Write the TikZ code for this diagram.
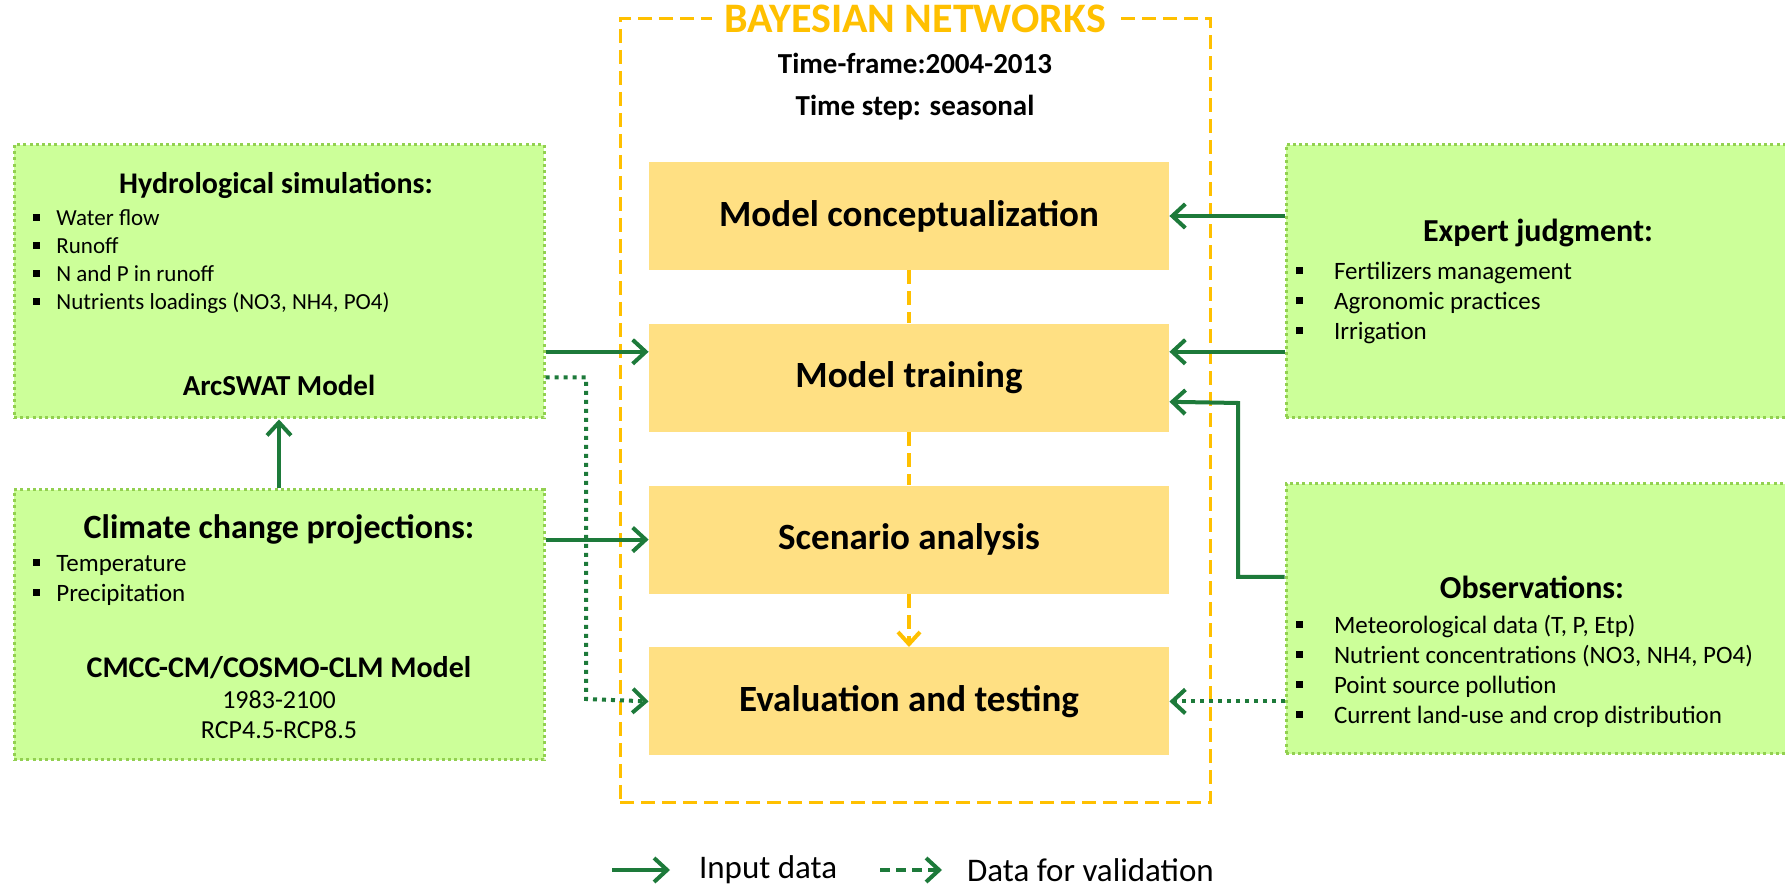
\documentclass[tikz,border=0pt]{standalone}
\usepackage{fontspec}
\setmainfont{Carlito}
\usetikzlibrary{arrows.meta, positioning}
\definecolor{leafgreen}{HTML}{CCFF99}
\definecolor{leafedge}{HTML}{92D050}
\definecolor{arrowgreen}{HTML}{1D7A3A}
\definecolor{blockyellow}{HTML}{FFE083}
\definecolor{bngold}{HTML}{FFC000}
\tikzstyle{block} = [rectangle, fill=blockyellow, minimum width=260pt, minimum height=54pt,
    font=\fontsize{18.5}{22}\selectfont\bfseries]
\tikzstyle{source} = [rectangle, draw=leafedge, fill=leafgreen, line width=1.5pt,
    dash pattern=on 1.5pt off 1.6pt, minimum width=265pt]
\tikzstyle{heading} = [font=\fontsize{16}{19}\selectfont\bfseries]
\tikzstyle{items} = [anchor=west, align=left, inner sep=0pt, font=\fontsize{12.5}{15}\selectfont]
\tikzstyle{modelname} = [font=\fontsize{14.5}{17}\selectfont\bfseries]
\tikzstyle{line} = [draw=arrowgreen, line width=2pt, -{Straight Barb[length=6.5pt,width=12pt]}]
\tikzstyle{vline} = [line, dash pattern=on 2pt off 2.5pt]
\tikzstyle{flow} = [draw=bngold, line width=1.5pt, dash pattern=on 7pt off 3.5pt]
\newcommand{\bul}[1][11.5pt]{\makebox[#1][l]{\rule[.22em]{.28em}{.28em}}}

\begin{document}
\begin{tikzpicture}[x=0.5pt, y=-0.5pt, node distance=26.5pt, auto]
  \useasboundingbox (0,0) rectangle (1785,892);
  % Bayesian networks frame
  \node[flow, minimum width=295pt, minimum height=392pt] (bn) at (915,411) {};
  \node[fill=white, inner xsep=6pt, inner ysep=1pt, text=bngold,
        font=\fontsize{21}{24}\selectfont\bfseries] (bntitle) at (915,19) {BAYESIAN NETWORKS};
  \node[align=center, font=\fontsize{14.5}{21}\selectfont\bfseries] (timeframe) at (915,87)
        {Time-frame:2004-2013\\ Time step: seasonal};

  % Place nodes
  \node[block] (conc) at (909,216) {Model conceptualization};
  \node[block, below=of conc] (train) {Model training};
  \node[block, below=of train] (scen) {Scenario analysis};
  \node[block, below=of scen] (eval) {Evaluation and testing};

  % Data sources
  \node[source, minimum height=136.5pt] (hydro) at (279,281.5) {};
  \node[heading, font=\fontsize{15}{18}\selectfont\bfseries] (hydrotitle) at (276,186) {Hydrological simulations:};
  \node[items, font=\fontsize{11.5}{14}\selectfont] (hydroitems) at (33,262) {\bul Water flow\\ \bul Runoff\\
        \bul N and P in runoff\\ \bul Nutrients loadings (NO3, NH4, PO4)};
  \node[modelname] (arcswat) at (279,385) {ArcSWAT Model};

  \node[source, minimum height=135pt] (climate) at (279,625) {};
  \node[heading, font=\fontsize{17}{20}\selectfont\bfseries] (climtitle) at (279,529) {Climate change projections:};
  \node[items] (climitems) at (33,580) {\bul Temperature\\ \bul Precipitation};
  \node[modelname, font=\fontsize{15}{18}\selectfont\bfseries] (cmcc) at (279,668) {CMCC-CM/COSMO-CLM Model};
  \node[align=center, font=\fontsize{13}{15}\selectfont] (cmccyears) at (279,715)
        {1983-2100\\ RCP4.5-RCP8.5};

  \node[source, minimum width=252pt, minimum height=136.5pt] (expert) at (1538,281.5) {};
  \node[heading] (experttitle) at (1538,233) {Expert judgment:};
  \node[items] (expertitems) at (1296,303) {\bul[16pt] Fertilizers management\\
        \bul[16pt] Agronomic practices\\ \bul[16pt] Irrigation};

  \node[source, minimum width=252pt, minimum height=135pt] (obs) at (1538,619) {};
  \node[heading] (obstitle) at (1532,587) {Observations:};
  \node[items] (obsitems) at (1296,671) {\bul[16pt] Meteorological data (T, P, Etp)\\
        \bul[16pt] Nutrient concentrations (NO3, NH4, PO4)\\
        \bul[16pt] Point source pollution\\
        \bul[16pt] Current land-use and crop distribution};

  % Legend
  \node[anchor=west, font=\fontsize{16.5}{19}\selectfont] (inlegend) at (692,870) {Input data};
  \node[anchor=west, font=\fontsize{16.5}{19}\selectfont] (vallegend) at (960,870) {Data for validation};

  % Draw edges
  \path [flow, line width=2pt] (conc) -- (train);
  \path [flow, line width=2pt] (train) -- (scen);
  \path [flow, line width=2pt, -{Straight Barb[length=6pt,width=11pt]}] (scen) -- (eval);

  \path [line] (climate) -- (hydro);
  \path [line] ([yshift=13pt]train.west -| hydro.east) -- ([yshift=13pt]train.west);
  \path [line] (climate.east |- scen.west) -- (scen.west);
  \path [line] (expert.west |- conc.east) -- (conc.east);
  \path [line] ([yshift=13pt]train.east -| expert.west) -- ([yshift=13pt]train.east);

  \coordinate (obsturn) at (1238,403);
  \path [line] ([yshift=21pt]obs.west) -| (obsturn) -- ([yshift=-12pt]train.east);

  \coordinate (hydroturn) at (586,699);
  \path [vline] ([yshift=-48pt]hydro.east) -| (hydroturn) -- (eval.west);
  \path [vline] (obs.west |- eval.east) -- (eval.east);

  \path [line] ([xshift=-40pt]inlegend.west) -- ([xshift=-11pt]inlegend.west);
  \path [line, dash pattern=on 5pt off 3pt] ([xshift=-40pt]vallegend.west) -- ([xshift=-9pt]vallegend.west);
\end{tikzpicture}
\end{document}
